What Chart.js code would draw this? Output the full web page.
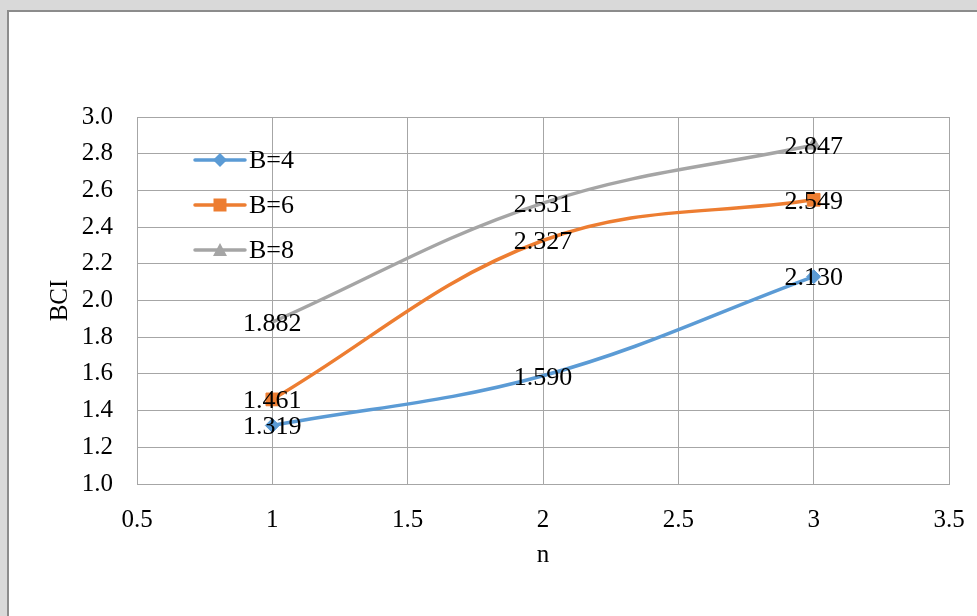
<!DOCTYPE html>
<html>
<head>
<meta charset="utf-8">
<script src="https://cdn.jsdelivr.net/npm/chart.js@4.4.1/dist/chart.umd.min.js"></script>
<style>
  html, body { margin: 0; padding: 0; }
  body { width: 977px; height: 616px; background: #d9d9d9; position: relative; overflow: hidden; }
  .frame { position: absolute; left: 7px; top: 10px; width: 1000px; height: 640px; background: #fff; border: 2px solid #8c8c8c; }
  #bciChart { position: absolute; left: 0; top: 0; }
</style>
</head>
<body>
<div class="frame"></div>
<canvas id="bciChart" width="977" height="616"></canvas>
<script>
// n values on the x axis and BCI for each B
const nValues = [1, 2, 3];
const bciB4 = [1.319, 1.590, 2.130];
const bciB6 = [1.461, 2.327, 2.549];
const bciB8 = [1.882, 2.531, 2.847];
const seriesLabels = ['B=4', 'B=6', 'B=8'];

const colors = ['#5b9bd5', '#ed7d31', '#a5a5a5'];
const markers = ['rectRot', 'rect', 'triangle'];
const serifFont = '"Liberation Serif", "Times New Roman", serif';

function toPoints(values) {
    return nValues.map((n, i) => ({ x: n, y: values[i] }));
}

function drawMarker(ctx, marker, cx, cy) {
    ctx.beginPath();
    if (marker === 'rectRot') {
        ctx.moveTo(cx - 7, cy); ctx.lineTo(cx, cy - 7); ctx.lineTo(cx + 7, cy); ctx.lineTo(cx, cy + 7);
    } else if (marker === 'rect') {
        ctx.rect(cx - 6.5, cy - 6.5, 13, 13);
    } else {
        ctx.moveTo(cx, cy - 7); ctx.lineTo(cx + 7, cy + 6); ctx.lineTo(cx - 7, cy + 6);
    }
    ctx.closePath();
    ctx.fill();
}

// Legend inside the plot, top left: line + marker, then the label
const insideLegend = {
    id: 'insideLegend',
    afterDraw(chart) {
        const ctx = chart.ctx;
        const area = chart.chartArea;
        const x0 = area.left + 58;
        ctx.save();
        ctx.font = '26px ' + serifFont;
        ctx.textBaseline = 'middle';
        ctx.textAlign = 'left';
        chart.data.datasets.forEach((ds, i) => {
            const y = area.top + 43 + i * 45;
            ctx.strokeStyle = ds.borderColor;
            ctx.fillStyle = ds.borderColor;
            ctx.lineWidth = 3.5;
            ctx.lineCap = 'round';
            ctx.beginPath();
            ctx.moveTo(x0, y);
            ctx.lineTo(x0 + 50, y);
            ctx.stroke();
            drawMarker(ctx, markers[i], x0 + 25, y);
            ctx.fillStyle = '#000';
            ctx.fillText(ds.label, x0 + 54, y + 1);
        });
        ctx.restore();
    }
};

// Value labels centred on each point
const valueLabels = {
    id: 'valueLabels',
    afterDatasetsDraw(chart) {
        const ctx = chart.ctx;
        ctx.save();
        ctx.font = '26px ' + serifFont;
        ctx.fillStyle = '#000';
        ctx.textAlign = 'center';
        ctx.textBaseline = 'middle';
        chart.data.datasets.forEach((ds, i) => {
            chart.getDatasetMeta(i).data.forEach((pt, j) => {
                ctx.fillText(ds.data[j].y.toFixed(3), pt.x, pt.y + 2);
            });
        });
        ctx.restore();
    }
};

function makeDataset(label, values, idx, radii) {
    return {
        label: label,
        data: toPoints(values),
        borderColor: colors[idx],
        backgroundColor: colors[idx],
        borderWidth: 3.5,
        pointStyle: markers[idx],
        pointRadius: radii,
        pointBorderWidth: 1,
        tension: 0.38,
        fill: false
    };
}

const ctx = document.getElementById('bciChart').getContext('2d');
new Chart(ctx, {
    type: 'line',
    data: {
        datasets: [
            makeDataset(seriesLabels[0], bciB4, 0, [7, 0, 7]),
            makeDataset(seriesLabels[1], bciB6, 1, [9, 0, 9]),
            makeDataset(seriesLabels[2], bciB8, 2, [0, 0, 8])
        ]
    },
    options: {
        responsive: false,
        animation: false,
        layout: { padding: { left: 0, top: 117, right: 28, bottom: 0 } },
        plugins: {
            tooltip: { enabled: false },
            legend: { display: false }
        },
        scales: {
            x: {
                type: 'linear',
                min: 0.5,
                max: 3.5,
                border: { color: '#a6a6a6' },
                grid: { color: '#a6a6a6', drawTicks: false },
                ticks: {
                    stepSize: 0.5,
                    padding: 21,
                    color: '#000',
                    font: { family: serifFont, size: 25 },
                    callback: v => String(v)
                },
                title: {
                    display: true,
                    text: 'n',
                    color: '#000',
                    font: { family: serifFont, size: 25 },
                    padding: { top: 0, bottom: 46 }
                },
                afterFit(scale) {
                    scale.height = 132;
                    scale.paddingLeft = 0;
                    scale.paddingRight = 0;
                }
            },
            y: {
                min: 1,
                max: 3,
                border: { color: '#a6a6a6' },
                grid: { color: '#a6a6a6', drawTicks: false },
                ticks: {
                    stepSize: 0.2,
                    padding: 24,
                    color: '#000',
                    font: { family: serifFont, size: 25 },
                    callback: v => v.toFixed(1)
                },
                title: {
                    display: true,
                    text: 'BCI',
                    color: '#000',
                    font: { family: serifFont, size: 25 },
                    padding: { top: 45, bottom: 0 }
                },
                afterFit(scale) {
                    scale.width = 137;
                    scale.paddingTop = 0;
                    scale.paddingBottom = 0;
                }
            }
        }
    },
    plugins: [valueLabels, insideLegend]
});
</script>
</body>
</html>
